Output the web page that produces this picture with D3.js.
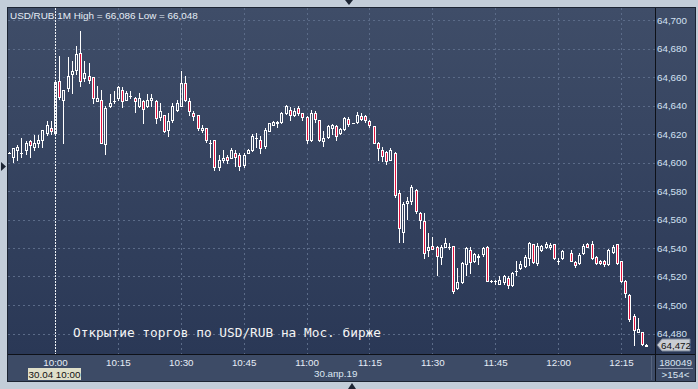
<!DOCTYPE html>
<html><head><meta charset="utf-8">
<script src="https://cdn.jsdelivr.net/npm/d3@7"></script>
<style>html,body{margin:0;padding:0;background:#c3cdd9;}svg{display:block}</style>
</head><body>
<svg id="c" width="698" height="389"></svg>
<script>
// ---------- data (1-minute candles, USD/RUB, 30.04.2019) ----------
const times = ["09:49","09:50","09:51","09:52","09:53","09:54","09:55","09:56","09:57","09:58","09:59",
"10:00","10:01","10:02","10:03","10:04","10:05","10:06","10:07","10:08","10:09","10:10","10:11","10:12","10:13","10:14",
"10:15","10:16","10:17","10:18","10:19","10:20","10:21","10:22","10:23","10:24","10:25","10:26","10:27","10:28","10:29",
"10:30","10:31","10:32","10:33","10:34","10:35","10:36","10:37","10:38","10:39","10:40","10:41","10:42","10:43","10:44",
"10:45","10:46","10:47","10:48","10:49","10:50","10:51","10:52","10:53","10:54","10:55","10:56","10:57","10:58","10:59",
"11:00","11:01","11:02","11:03","11:04","11:05","11:06","11:07","11:08","11:09","11:10","11:11","11:12","11:13","11:14",
"11:15","11:16","11:17","11:18","11:19","11:20","11:21","11:22","11:23","11:24","11:25","11:26","11:27","11:28","11:29",
"11:30","11:31","11:32","11:33","11:34","11:35","11:36","11:37","11:38","11:39","11:40","11:41","11:42","11:43","11:44",
"11:45","11:46","11:47","11:48","11:49","11:50","11:51","11:52","11:53","11:54","11:55","11:56","11:57","11:58","11:59",
"12:00","12:01","12:03","12:04","12:05","12:06","12:07","12:08","12:09","12:10","12:11","12:12","12:13","12:14",
"12:15","12:16","12:17","12:18","12:19","12:20","12:21"];
const open = [64607,64603.7,64609,64607,64609,64615,64611,64614,64616,64621,64624,
64620.5,64657,64644,64652,64662,64665,64677,64659,64661,64660,64643,64644,64613,64640,64643,
64645,64651,64644,64647,64645,64640,64643,64640,64644,64643,64632,64633,64623,64630,64637,
64640,64656,64643,64635,64633,64623,64624,64613.5,64616,64597,64602,64604,64603,64607,64605,
64598,64607,64609,64617,64616,64611.6,64622,64626,64627.5,64628.6,64635,64637,64633,64638,64634.5,
64631.7,64616,64635,64630,64615,64618,64624,64625.6,64620.5,64623.5,64630.5,64628,64628.6,64632.6,64632.6,
64629,64625.6,64614,64609,64607.6,64602,64607,64578.4,64551.4,64571.3,64573.2,64580.7,64564.3,64558.9,64538.5,
64541.4,64541,64534,64541,64541,64541.4,64511.7,64516.3,64528.5,64538.6,64531,64534,64535.6,64541,64516.8,
64517,64515,64516,64518.7,64514,64524,64525.7,64527.6,64532.8,64542.6,64529.2,64538.6,64541,64540.5,64542.6,
64531,64532.8,64536.7,64530.4,64529.2,64536.3,64542.6,64542.6,64533.5,64530.9,64530.9,64528.6,64537.4,64542.6,
64530.9,64516.8,64507,64492.5,64481.3,64480.8,64471.5];
const high = [64607.5,64610,64612,64617,64615,64616,64619,64619,64623,64629,64629,
64656.5,64675,64651,64674,64671,64682,64692,64671,64670,64660,64654,64651,64640,64648,64650,
64654,64653,64650,64650,64646,64649,64644,64648,64648,64644,64642,64633,64634.5,64641.5,64644,
64664,64661,64645,64636,64633,64626,64624,64616,64616,64605,64609,64605,64610,64609,64606.5,
64606.5,64609.5,64620,64620.5,64618.6,64624,64627.5,64629,64629.4,64635.6,64640.6,64639,64638,64639.6,64635,
64632.6,64636.5,64636,64630,64622,64626.5,64627,64626.3,64624,64632,64631.6,64628,64635.6,64635,64633.3,
64630,64625.6,64614.6,64611,64608,64610,64607.6,64580.7,64572.5,64575.6,64584,64581.2,64565.5,64564.3,64550.3,
64548,64541.4,64542,64547.2,64543.3,64541.4,64525.8,64530.3,64541,64541,64536.3,64535.6,64541,64541.4,64517.5,
64517.5,64520,64521,64520,64523,64530.9,64531,64535,64544.4,64542.6,64543.3,64542.2,64544.4,64543.8,64543,
64532.8,64538.6,64538.6,64531,64536.3,64542.8,64543.8,64544.9,64534.2,64531.6,64531.6,64539.3,64542.2,64542.6,
64530.9,64517.5,64508,64493.6,64490.6,64480.8,64472.5];
const low = [64606.5,64600.1,64602,64604,64606,64604,64609,64611,64611,64619,64620,
64620,64644.5,64614,64650,64649,64662,64654,64657,64656,64642,64643,64614,64606,64639,64641.5,
64644,64639,64644,64645.5,64635.6,64639,64627.5,64639,64640,64628,64630,64621.6,64618.6,64628.6,64636,
64640,64643,64633,64630,64623,64621.6,64614.6,64604,64595,64595,64600.5,64600,64603,64597.5,64595,
64597,64606.5,64608,64611,64607,64610,64622,64626,64625,64628,64634,64630,64632.6,64633,64629.6,
64613.5,64615,64628.6,64615,64611.6,64617,64620,64616,64620,64623,64625.6,64628,64628,64629.6,64628.6,
64624.6,64613.5,64601.7,64601,64599,64601.7,64576,64544.4,64544.4,64560.1,64571,64564.3,64554,64532.8,64534.4,
64539.5,64521,64529,64540.5,64539,64508.6,64511,64515.6,64521,64522.2,64530.3,64529,64534.6,64517,64516,
64514.7,64514.7,64515,64511.7,64513.6,64521,64525,64527,64528,64529.6,64528,64538,64540,64539,64532,
64529,64532,64530.6,64526.4,64528.6,64535.6,64540.5,64532.3,64528.6,64528.6,64527.1,64528,64536.7,64528.6,
64516.3,64505.9,64489,64471.9,64480.8,64471.9,64471.2];
const close = [64607,64610,64611,64607,64614,64612,64614,64616,64623,64626,64622,
64656.3,64646,64651,64661,64664,64676,64657,64663,64658,64645,64645,64614,64638,64642,64643,
64653,64643,64649,64647,64643,64645,64637.5,64644,64645,64631,64636,64622,64629,64640,64642,
64655.5,64644,64636,64632.6,64624,64624,64616,64613.5,64597,64602,64603.5,64602,64609,64604,64597.5,
64605,64609,64618.6,64617,64610,64623,64627.5,64628.6,64628.6,64635,64639.6,64633,64636,64635,64632,
64616,64635,64630.5,64616,64617,64625.6,64626,64618.6,64623.5,64631,64627,64628,64633,64630.5,64630,
64626,64614,64610,64604.8,64601,64608.8,64577,64553.8,64570.7,64573,64582.6,64566,64559.6,64536.3,64540.5,
64539.5,64534.6,64541,64543.3,64541,64510,64516.3,64529.6,64540.2,64530.4,64535.6,64534.6,64540.2,64517,64516.8,
64517,64517.5,64520,64514,64522.2,64524,64528.7,64534,64543.3,64530.4,64541.4,64541.4,64542.8,64542.1,64532.8,
64531,64537.9,64531,64528,64535,64541.4,64540.9,64532.8,64529.2,64529.2,64528.6,64538.6,64541,64529.2,
64517,64508.6,64490.2,64482.4,64483.1,64472.6,64472];
const xTickLabels = ["10:00","10:15","10:30","10:45","11:00","11:15","11:30","11:45","12:00","12:15"];
const yTickValues = [64480,64500,64520,64540,64560,64580,64600,64620,64640,64660,64680,64700];
const lastPrice = 64472;
const headerText = "USD/RUB 1M High = 66,086 Low = 66,048";
const noteText = "Открытие торгов по USD/RUB на Мос. бирже";
const dateText = "30.апр.19";
const cursorText = "30.04 10:00";
const cornerTop = "180049", cornerBottom = ">154<";

// ---------- setup ----------
const svg = d3.select("#c");
const font = "'Liberation Sans', Arial, sans-serif";
const parse = d3.timeParse("%Y-%m-%d %H:%M");
const T = s => parse("2019-04-30 " + s);
const candles = times.map((t, i) => ({t: T(t), o: open[i], h: high[i], l: low[i], c: close[i]}));

const L = 8, R = 655, TOP = 8, BOT = 354;
const x = d3.scaleTime().domain([T("10:00"), T("12:15")]).range([55, 621]);
const y = d3.scaleLinear().domain([64700, 64480]).range([20, 333.5]);

const defs = svg.append("defs");
const g1 = defs.append("linearGradient").attr("id", "bg").attr("x1", 0).attr("y1", 0).attr("x2", 0).attr("y2", 1);
g1.append("stop").attr("offset", 0).attr("stop-color", "#3f4d68");
g1.append("stop").attr("offset", 1).attr("stop-color", "#2a3856");
defs.append("clipPath").attr("id", "plot").append("rect").attr("x", L).attr("y", TOP).attr("width", R - L).attr("height", BOT - TOP);

// outer frame
svg.append("rect").attr("x", 0).attr("y", 0).attr("width", 698).attr("height", 389).attr("fill", "#c3cdd9");
svg.append("rect").attr("x", 7).attr("y", 7).attr("width", 689).attr("height", 375).attr("fill", "#1c2433");
svg.append("rect").attr("x", L).attr("y", TOP).attr("width", 687).attr("height", BOT - TOP).attr("fill", "url(#bg)");
svg.append("rect").attr("x", L).attr("y", BOT + 1).attr("width", 687).attr("height", 26).attr("fill", "#3d4b66");

// navigation triangles
const tri = (pts) => svg.append("path").attr("d", "M" + pts.join("L") + "Z").attr("fill", "#1c2433");
tri([[345, 0], [353, 0], [349, 5]]);
tri([[348, 389], [356, 389], [352, 383]]);
tri([[1, 162], [1, 171], [6, 166.5]]);

// gridlines
const plot = svg.append("g").attr("clip-path", "url(#plot)");
plot.selectAll("line.hg").data(yTickValues).join("line")
  .attr("x1", L).attr("x2", R).attr("y1", d => Math.round(y(d)) + 0.5).attr("y2", d => Math.round(y(d)) + 0.5)
  .attr("stroke", "#5b6b88").attr("stroke-dasharray", "2,3");
const xTicks = xTickLabels.map(T);
plot.selectAll("line.vg").data(xTicks).join("line")
  .attr("x1", d => Math.round(x(d)) + 0.5).attr("x2", d => Math.round(x(d)) + 0.5)
  .attr("y1", TOP).attr("y2", BOT)
  .attr("stroke", (d, i) => i === 0 ? "#eef1f5" : "#5b6b88")
  .attr("stroke-dasharray", (d, i) => i === 0 ? "2,1" : "2,3");

// candles
const cg = plot.append("g");
candles.forEach(d => {
  const cx = Math.round(x(d.t));
  const top = Math.round(y(Math.max(d.o, d.c)));
  const bot = Math.round(y(Math.min(d.o, d.c)));
  const yh = Math.round(y(d.h)), yl = Math.round(y(d.l));
  const up = d.c >= d.o;
  if (bot - top < 1) {
    cg.append("line").attr("x1", cx + 0.5).attr("x2", cx + 0.5).attr("y1", yh).attr("y2", yl + 1).attr("stroke", "#fff");
    cg.append("rect").attr("x", cx - 1).attr("y", top).attr("width", 3).attr("height", 1).attr("fill", "#fff");
    return;
  }
  if (yh < top) cg.append("line").attr("x1", cx + 0.5).attr("x2", cx + 0.5).attr("y1", yh).attr("y2", top).attr("stroke", "#fff");
  if (yl > bot) cg.append("line").attr("x1", cx + 0.5).attr("x2", cx + 0.5).attr("y1", bot + 1).attr("y2", yl + 1).attr("stroke", "#fff");
  cg.append("rect").attr("x", cx - 0.5).attr("y", top + 0.5).attr("width", 2).attr("height", bot - top)
    .attr("fill", up ? "none" : "#e3123e").attr("stroke", "#fff").attr("stroke-width", 1);
});

// axis lines
svg.append("line").attr("x1", R + 0.5).attr("x2", R + 0.5).attr("y1", TOP).attr("y2", 381).attr("stroke", "#0e1118");
svg.append("line").attr("x1", L).attr("x2", 695).attr("y1", BOT + 0.5).attr("y2", BOT + 0.5).attr("stroke", "#0e1118");
svg.append("line").attr("x1", 651.5).attr("x2", 651.5).attr("y1", BOT + 2).attr("y2", 380).attr("stroke", "#56647e");

// y axis
const ya = svg.append("g").attr("transform", `translate(${R},0)`)
  .call(d3.axisRight(y).tickValues(yTickValues).tickFormat(d3.format(",")).tickSize(0).tickPadding(2));
ya.select(".domain").remove();
ya.selectAll("text").attr("fill", "#d3e1f2").attr("font-family", font).attr("font-size", "9.8px");

// x axis
const xa = svg.append("g").attr("transform", `translate(0,${BOT})`)
  .call(d3.axisBottom(x).tickValues(xTicks).tickFormat(d3.timeFormat("%H:%M")).tickSize(0).tickPadding(5));
xa.select(".domain").remove();
xa.selectAll("text").attr("fill", "#e6edf6").attr("font-family", font).attr("font-size", "9.8px");

// cursor date box
svg.append("rect").attr("x", 28).attr("y", 368).attr("width", 53).attr("height", 12).attr("fill", "#dfdfc9");
svg.append("text").attr("x", 54.5).attr("y", 377.5).attr("text-anchor", "middle").attr("fill", "#111")
  .attr("font-family", font).attr("font-size", "9.8px").text(cursorText);
svg.append("text").attr("x", 314).attr("y", 377).attr("fill", "#dbe6f2")
  .attr("font-family", font).attr("font-size", "9.8px").text(dateText);

// corner
svg.append("text").attr("x", 675.5).attr("y", 365.5).attr("text-anchor", "middle").attr("fill", "#dbe6f2")
  .attr("font-family", font).attr("font-size", "9.8px").text(cornerTop);
svg.append("line").attr("x1", 658).attr("x2", 693).attr("y1", 368.5).attr("y2", 368.5).attr("stroke", "#8e9ab0");
svg.append("text").attr("x", 675.5).attr("y", 377.5).attr("text-anchor", "middle").attr("fill", "#dbe6f2")
  .attr("font-family", font).attr("font-size", "9.8px").text(cornerBottom);

// last price marker
const ly = Math.round(y(lastPrice));
svg.append("path").attr("d", `M657,${ly}L662,${ly - 6}L690,${ly - 6}L690,${ly + 6}L662,${ly + 6}Z`)
  .attr("fill", "#c9cdd4").attr("stroke", "#7d8799");
svg.append("text").attr("x", 676).attr("y", ly + 3.5).attr("text-anchor", "middle").attr("fill", "#111")
  .attr("font-family", font).attr("font-size", "9.8px").text(d3.format(",")(lastPrice));

// header & note
svg.append("text").attr("x", 10).attr("y", 18.5).attr("fill", "#e6edf6")
  .attr("font-family", font).attr("font-size", "9.9px").text(headerText);
svg.append("text").attr("x", 73).attr("y", 336.5).attr("fill", "#f4f4f4")
  .attr("font-family", "'DejaVu Sans Mono', monospace").attr("font-size", "13px")
  .attr("textLength", 308).attr("lengthAdjust", "spacingAndGlyphs").text(noteText);
</script>
</body></html>
